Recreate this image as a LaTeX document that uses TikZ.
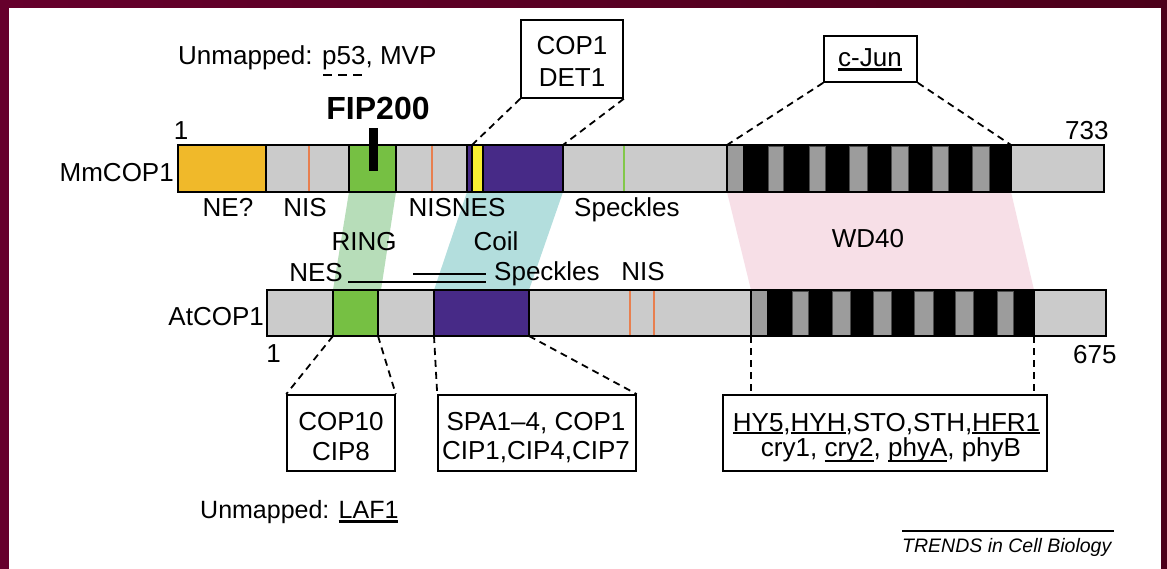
\documentclass[tikz,border=0pt]{standalone}
\usepackage{fontspec}
\setmainfont{Liberation Sans}
\definecolor{bordA}{HTML}{66002C}
\definecolor{bordB}{HTML}{4C001A}
\definecolor{cOrange}{HTML}{F0B92A}
\definecolor{cGreen}{HTML}{76C043}
\definecolor{cPurple}{HTML}{472A87}
\definecolor{cYellow}{HTML}{F8EE33}
\definecolor{cGrey}{HTML}{CBCBCB}
\definecolor{cDark}{HTML}{9C9C9C}
\definecolor{cTick}{HTML}{E87F4F}
\definecolor{cTickG}{HTML}{82C84A}
\definecolor{bandG}{HTML}{B7DDB9}
\definecolor{bandT}{HTML}{B3DEDD}
\definecolor{bandP}{HTML}{F7DFE7}
% underline a word: #1 drop below baseline, #2 rule thickness
\newcommand\ulw[3]{\setbox0\hbox{#3}\rlap{\rule[-#1]{\wd0}{#2}}\box0}
\begin{document}
\begin{tikzpicture}[x=1pt,y=-1pt,
  lbl/.style={font=\fontsize{26}{30}\selectfont, inner sep=0pt, anchor=base},
  seg/.style={draw=black, line width=1.3pt},
  stripe/.style={fill=cDark, draw=black!70, line width=0.7pt},
  outline/.style={draw=black, line width=2pt},
  box/.style={draw=black, line width=1.6pt, inner sep=0pt},
  conn/.style={line width=1.8pt, dash pattern=on 7pt off 5pt},
  mark/.style={line width=1.6pt}]
\useasboundingbox (0,0) rectangle (1167,569);
% frame
\shade[left color=bordA, right color=bordB] (0,0) rectangle (1167,569);
\fill[white] (9,8) rectangle (1161,569);

% homology bands between the two proteins
\fill[bandG] (349,192) -- (396,192) -- (381,290) -- (333,290) -- cycle;
\fill[bandT] (467,192) -- (563,192) -- (529,290) -- (434,290) -- cycle;
\fill[bandP] (727,192) -- (1011,192) -- (1034,290) -- (751,290) -- cycle;

% ---- MmCOP1 bar ----
\draw[seg, fill=cOrange] (178,145) rectangle (266,192);
\draw[seg, fill=cGrey]   (266,145) rectangle (349,192);
\draw[seg, fill=cGreen]  (349,145) rectangle (396,192);
\draw[seg, fill=cGrey]   (396,145) rectangle (467,192);
\draw[seg, fill=cPurple] (467,145) rectangle (563,192);
\draw[seg, fill=cYellow] (472,145) rectangle (483,192);
\draw[seg, fill=cGrey]   (563,145) rectangle (727,192);
\draw[seg, fill=cDark]   (727,145) rectangle (744,192);
\draw[seg, fill=black]   (744,145) rectangle (1011,192);
\foreach \a/\b in {768/783, 809/825, 849/867, 891/908, 932/948, 972/989}
  \draw[stripe] (\a,146) rectangle (\b,191);
\draw[seg, fill=cGrey]   (1011,145) rectangle (1104,192);
\draw[cTick, line width=1.6pt] (309,146) -- (309,191);
\draw[cTick, line width=1.6pt] (432,146) -- (432,191);
\draw[cTickG, line width=1.6pt] (624,146) -- (624,191);
\draw[outline] (178,145) rectangle (1104,192);
\fill (369,128) rectangle (378,171);

% ---- AtCOP1 bar ----
\draw[seg, fill=cGrey]   (267,290) rectangle (333,336);
\draw[seg, fill=cGreen]  (333,290) rectangle (378,336);
\draw[seg, fill=cGrey]   (378,290) rectangle (434,336);
\draw[seg, fill=cPurple] (434,290) rectangle (529,336);
\draw[seg, fill=cGrey]   (529,290) rectangle (751,336);
\draw[seg, fill=cDark]   (751,290) rectangle (768,336);
\draw[seg, fill=black]   (768,290) rectangle (1034,336);
\foreach \a/\b in {792/808, 832/850, 873/891, 914/933, 955/973, 997/1013}
  \draw[stripe] (\a,291) rectangle (\b,335);
\draw[seg, fill=cGrey]   (1034,290) rectangle (1106,336);
\draw[cTick, line width=1.6pt] (630,291) -- (630,335);
\draw[cTick, line width=1.6pt] (654,291) -- (654,335);
\draw[outline] (267,290) rectangle (1106,336);

% anchor points on the bars
\coordinate (mmNES)  at (472,145);
\coordinate (mmCoil) at (563,145);
\coordinate (mmWDl)  at (727,145);
\coordinate (mmWDr)  at (1011,145);
\coordinate (atRl)   at (333,336);
\coordinate (atRr)   at (378,336);
\coordinate (atCl)   at (434,336);
\coordinate (atCr)   at (529,336);
\coordinate (atWDl)  at (751,336);
\coordinate (atWDr)  at (1034,336);

% ---- labels ----
\node[lbl, anchor=base west] (unmapA) at (178,65) {Unmapped: p53, MVP};
\draw[line width=1.8pt, dash pattern=on 9pt off 6pt] (323,75) -- (363,75);
\node[lbl, font=\fontsize{32}{36}\selectfont\bfseries] (fip) at (378,120) {FIP200};
\node[lbl] (mmOne) at (181,140) {1};
\node[lbl, anchor=base east] (mm) at (174,182) {MmCOP1};
\node[lbl, anchor=base west] (mmEnd) at (1065,140) {733};
\node[lbl] (ne)  at (228,217) {NE?};
\node[lbl] (nis1) at (305,217) {NIS};
\node[lbl] (nisnes) at (457,217) {NISNES};
\node[lbl, anchor=base west] (sp1) at (574,217) {Speckles};
\node[lbl] (ring) at (364,251) {RING};
\node[lbl] (coil) at (496,251) {Coil};
\node[lbl] (wd) at (868,248) {WD40};
\node[lbl] (nes2) at (316,282) {NES};
\node[lbl, anchor=base west] (sp2) at (494,281) {Speckles};
\node[lbl] (nis2) at (643,280) {NIS};
\draw[line width=1.5pt] (348,282) -- (486,282);
\draw[line width=1.5pt] (413,274) -- (486,274);
\node[lbl, anchor=base east] (at) at (264,326) {AtCOP1};
\node[lbl] (atOne) at (273.5,362) {1};
\node[lbl, anchor=base west] (atEnd) at (1073,363) {675};

% ---- interaction boxes ----
\node[box, minimum width=102pt, minimum height=78pt] (bCop) at (572,59) {};
\node[lbl] at (572,55) {COP1};
\node[lbl] at (572,87) {DET1};
\node[box, minimum width=93pt, minimum height=46pt] (bJun) at (870.5,59) {};
\node[lbl] at (870,67) {\ulw{4pt}{3pt}{c-Jun}};
\node[box, minimum width=108pt, minimum height=76pt] (bCop10) at (341,433) {};
\node[lbl] at (341,430) {COP10};
\node[lbl] at (341,460) {CIP8};
\node[box, minimum width=198pt, minimum height=76pt] (bSpa) at (537,433) {};
\node[lbl] at (536,430) {SPA1--4, COP1};
\node[lbl] at (536,459) {CIP1,CIP4,CIP7};
\node[box, minimum width=324pt, minimum height=76pt] (bHy) at (885,433) {};
\node[lbl] at (886.5,431) {\ulw{3pt}{1.6pt}{HY5},\ulw{3pt}{1.6pt}{HYH},STO,STH,\ulw{3pt}{1.6pt}{HFR1}};
\node[lbl] at (891,456) {cry1, \ulw{6pt}{1.6pt}{cry2}, \ulw{6pt}{1.6pt}{phyA}, phyB};

% ---- dashed connectors ----
\draw[conn] (bCop.south west) -- (mmNES);
\draw[conn] (bCop.south east) -- (mmCoil);
\draw[conn] (bJun.south west) -- (mmWDl);
\draw[conn] (bJun.south east) -- (mmWDr);
\draw[conn] (atRl) -- (bCop10.north west);
\draw[conn] (atRr) -- (bCop10.north east);
\draw[conn] (atCl) -- (bSpa.north west);
\draw[conn] (atCr) -- (bSpa.north east);
\draw[conn] (atWDl) -- (atWDl |- bHy.north);
\draw[conn] (atWDr) -- (atWDr |- bHy.north);

% ---- footer ----
\node[lbl, anchor=base west, font=\fontsize{25}{30}\selectfont] (unmapB) at (200,518) {Unmapped: \ulw{5pt}{3pt}{LAF1}};
\node[lbl, anchor=base west, font=\fontsize{19.5}{24}\selectfont\itshape] (trends) at (902,552) {TRENDS in Cell Biology};
\draw[line width=1.4pt] (902,531) -- (1114,531);
\end{tikzpicture}
\end{document}
